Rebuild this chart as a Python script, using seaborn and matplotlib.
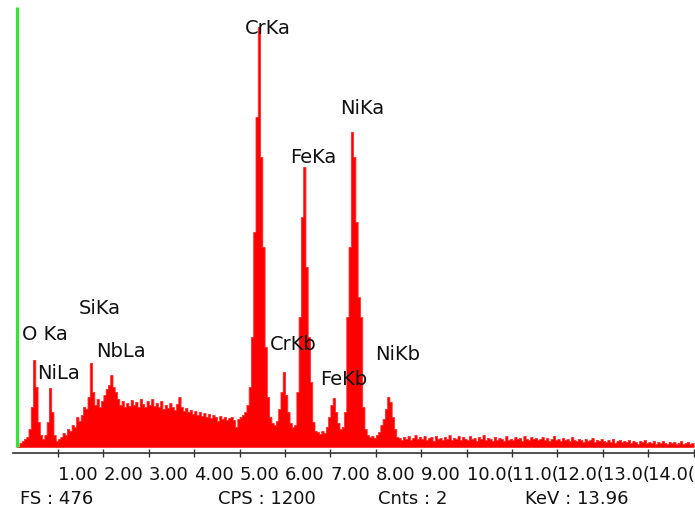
import numpy as np
import pandas as pd
import matplotlib
matplotlib.use("Agg")
import matplotlib.pyplot as plt
import seaborn as sns

# EDS spectrum, channels of 0.05 keV starting at 0.10 keV
bin_start = 0.10
bin_width = 0.05

# counts, one row = 0.5 keV
counts_0_1 = [0, 4, 6, 8, 10, 18, 40, 87, 60, 25, 12, 8, 12, 25, 59, 35, 12, 6]
counts_1_2 = [8, 10, 14, 12, 18, 16, 22, 20, 30, 26, 32, 40, 38, 50, 84, 55, 42, 48, 40, 46]
counts_2_3 = [52, 58, 62, 72, 60, 55, 48, 42, 46, 40, 44, 41, 47, 42, 45, 40, 48, 43, 40, 46]
counts_3_4 = [42, 48, 41, 44, 40, 46, 38, 42, 39, 44, 40, 37, 43, 50, 40, 36, 39, 35, 37, 33]
counts_4_5 = [36, 32, 35, 31, 34, 30, 33, 29, 32, 30, 26, 31, 28, 30, 27, 29, 30, 27, 20, 28]
counts_5_6 = [30, 32, 35, 42, 60, 110, 215, 330, 420, 290, 200, 100, 50, 30, 24, 22, 26, 38, 55, 75]
counts_6_7 = [52, 35, 24, 20, 22, 55, 130, 230, 280, 180, 110, 65, 25, 16, 15, 13, 16, 14, 20, 30]
counts_7_8 = [42, 49, 35, 24, 18, 20, 35, 130, 200, 315, 290, 225, 150, 130, 40, 18, 12, 10, 11, 9]
counts_8_9 = [12, 15, 22, 28, 38, 50, 45, 30, 18, 10, 9, 7, 10, 8, 11, 7, 9, 12, 8, 10]
counts_9_12 = [8, 11, 7, 9, 10, 6, 11, 8, 9, 7,
               10, 8, 12, 7, 9, 8, 11, 7, 10, 8,
               7, 11, 8, 9, 6, 10, 8, 12, 7, 9,
               8, 6, 10, 7, 9, 8, 6, 11, 7, 8,
               7, 10, 8, 9, 6, 11, 8, 7, 10, 8,
               9, 7, 8, 10, 7, 9, 6, 8, 11, 7]
counts_12_15 = [8, 6, 9, 7, 8, 6, 10, 7, 6, 8,
                7, 5, 8, 6, 7, 9, 5, 7, 6, 8,
                6, 5, 7, 5, 8, 4, 6, 7, 5, 6,
                5, 7, 4, 6, 5, 3, 6, 5, 7, 4,
                5, 4, 6, 3, 5, 4, 6, 4, 3, 5,
                4, 5, 3, 4, 6, 3, 4, 5, 3, 4]

peak_names = ["CrKa", "NiKa", "FeKa", "CrKb", "FeKb", "NiKb", "SiKa", "O Ka", "NbLa", "NiLa"]
label_x = [5.12, 7.21, 6.11, 5.67, 6.77, 7.98, 1.45, 0.20, 1.85, 0.53]
label_y = [414, 334, 285, 98, 63, 88, 134, 108, 91, 69]

tick_values = list(range(1, 16))
tick_labels = ["1.00", "2.00", "3.00", "4.00", "5.00", "6.00", "7.00", "8.00", "9.00",
               "10.0(", "11.0(", "12.0(", "13.0(", "14.0(", ""]

footer = [("FS : 476", 20), ("CPS : 1200", 218), ("Cnts : 2", 378), ("KeV : 13.96", 525)]

counts = np.concatenate([counts_0_1, counts_1_2, counts_2_3, counts_3_4, counts_4_5,
                         counts_5_6, counts_6_7, counts_7_8, counts_8_9,
                         counts_9_12, counts_12_15])
edges = [round(bin_start + bin_width * i, 3) for i in range(len(counts) + 1)]
centers = [(a + b) / 2 for a, b in zip(edges[:-1], edges[1:])]
df = pd.DataFrame({"energy": centers, "counts": counts})

sns.set_style("white")
plt.rcParams["font.family"] = ["DejaVu Sans"]

fig = plt.figure(figsize=(6.95, 5.10), dpi=100)
ax = fig.add_axes([12.6 / 695, 56 / 510, 681 / 695, 454 / 510])

sns.histplot(data=df, x="energy", weights="counts", bins=edges, element="step", fill=True,
             color="#ff0000", alpha=1.0, linewidth=0.6, edgecolor="#ff2a2a", ax=ax)

# green marker line
ax.vlines(0.1, 0, 440, color="#33e633", linewidth=2.3)

for name, px, py in zip(peak_names, label_x, label_y):
    ax.text(px, py, name, fontsize=14, color="#111111", ha="left", va="baseline")

ax.set_xlim(0, 15)
ax.set_ylim(-6, 448)
ax.set_xlabel("")
ax.set_ylabel("")
ax.set_yticks([])
ax.set_xticks(tick_values)
ax.set_xticklabels(tick_labels)
plt.setp(ax.get_xticklabels(), ha="left")
ax.tick_params(axis="x", bottom=True, direction="inout", length=6, width=1, color="#333333",
               pad=6, labelsize=13, labelcolor="#111111")
for side in ["left", "top", "right"]:
    ax.spines[side].set_visible(False)
ax.spines["bottom"].set_color("#333333")
ax.spines["bottom"].set_linewidth(1.2)

for txt, px in footer:
    fig.text(px / 695, 1 - 504.3 / 510, txt, fontsize=13, color="#111111",
             ha="left", va="baseline")

fig.savefig("out.png", dpi=100)
plt.close(fig)
